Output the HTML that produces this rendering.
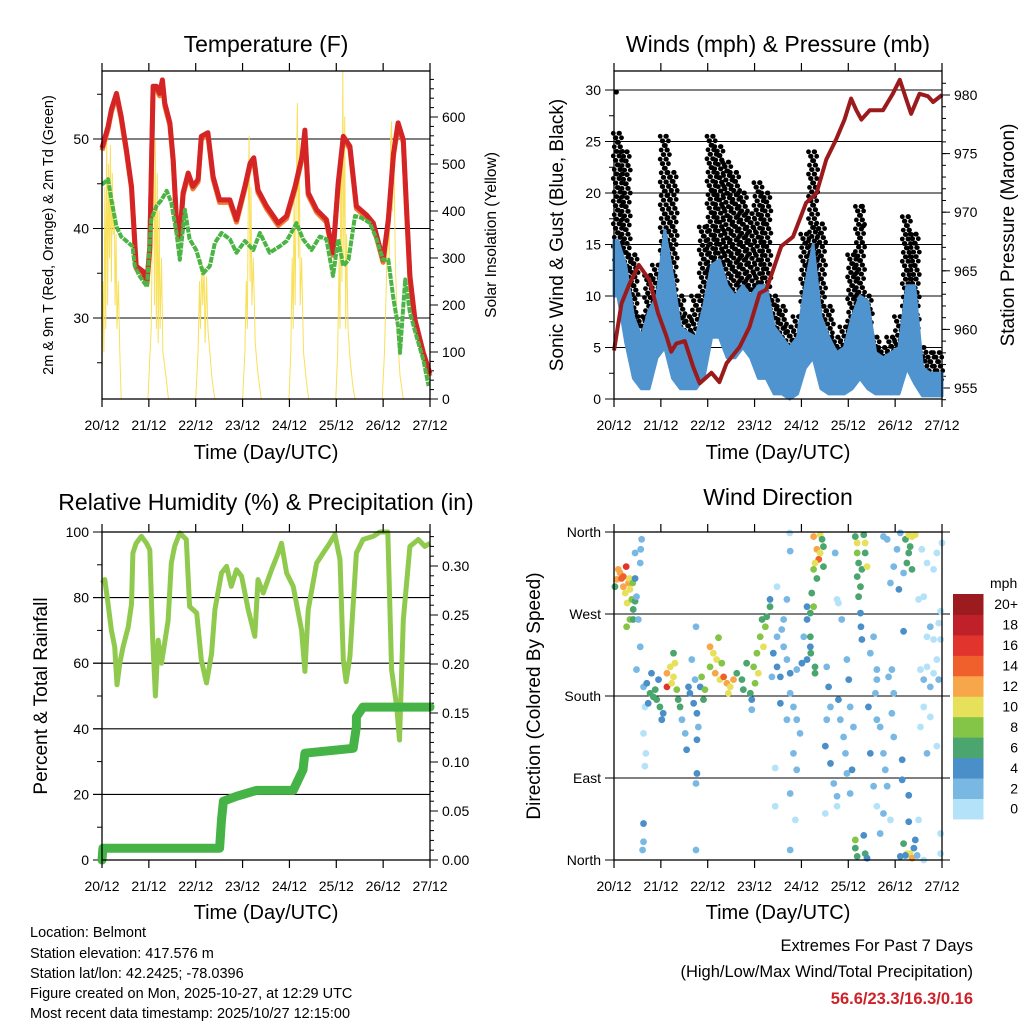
<!DOCTYPE html>
<html><head><meta charset="utf-8"><title>Belmont Meteogram</title>
<style>
html,body{margin:0;padding:0;background:#fff;}
svg{display:block;font-family:"Liberation Sans",Arial,sans-serif;}
</style></head>
<body>
<svg id="fig" width="1024" height="1024" viewBox="0 0 1024 1024" xmlns="http://www.w3.org/2000/svg">
<rect x="0" y="0" width="1024" height="1024" fill="#fff"/>
<g id="tl"></g>
<g id="tr"></g>
<g id="bl"></g>
<g id="br"></g>

<text x="266" y="52" font-size="23" text-anchor="middle">Temperature (F)</text>
<text x="778" y="52" font-size="23" text-anchor="middle">Winds (mph) &amp; Pressure (mb)</text>
<text x="266" y="510" font-size="23" text-anchor="middle">Relative Humidity (%) &amp; Precipitation (in)</text>
<text x="778" y="505" font-size="23" text-anchor="middle">Wind Direction</text>

<text x="266" y="459" font-size="20" text-anchor="middle">Time (Day/UTC)</text>
<text x="778" y="459" font-size="20" text-anchor="middle">Time (Day/UTC)</text>
<text x="266" y="919" font-size="20" text-anchor="middle">Time (Day/UTC)</text>
<text x="778" y="919" font-size="20" text-anchor="middle">Time (Day/UTC)</text>

<text transform="translate(53,235) rotate(-90)" font-size="14.5" text-anchor="middle">2m &amp; 9m T (Red, Orange) &amp; 2m Td (Green)</text>
<text transform="translate(496,235) rotate(-90)" font-size="15.5" text-anchor="middle">Solar Insolation (Yellow)</text>
<text transform="translate(563,235) rotate(-90)" font-size="19" text-anchor="middle">Sonic Wind &amp; Gust (Blue, Black)</text>
<text transform="translate(1014,235) rotate(-90)" font-size="19" text-anchor="middle">Station Pressure (Maroon)</text>
<text transform="translate(47,696) rotate(-90)" font-size="19" text-anchor="middle">Percent &amp; Total Rainfall</text>
<text transform="translate(540,696) rotate(-90)" font-size="19" text-anchor="middle">Direction (Colored By Speed)</text>

<g font-size="14.5">
<text x="30" y="937">Location: Belmont</text>
<text x="30" y="958">Station elevation: 417.576 m</text>
<text x="30" y="978">Station lat/lon: 42.2425; -78.0396</text>
<text x="30" y="998">Figure created on Mon, 2025-10-27, at 12:29 UTC</text>
<text x="30" y="1018">Most recent data timestamp: 2025/10/27 12:15:00</text>
</g>
<g text-anchor="end">
<text x="973" y="951" font-size="16.5">Extremes For Past 7 Days</text>
<text x="973" y="977" font-size="16.5">(High/Low/Max Wind/Total Precipitation)</text>
<text x="973" y="1004" font-size="16.5" font-weight="bold" fill="#cc2229">56.6/23.3/16.3/0.16</text>
</g>
</svg>
<script>
// ---------- DATA ----------
const dayLabels = ['20/12','21/12','22/12','23/12','24/12','25/12','26/12','27/12'];

const tempTimes = [0,.13,.2,.31,.41,.52,.63,.68,.73,.88,.96,1.02,1.09,1.16,1.23,1.29,1.34,1.45,1.52,1.6,1.66,1.73,1.84,1.94,2.05,2.12,2.26,2.37,2.51,2.73,2.87,3.05,3.16,3.24,3.33,3.51,3.76,3.94,4.12,4.27,4.33,4.4,4.58,4.79,4.93,5.04,5.15,5.29,5.43,5.65,5.79,6.0,6.11,6.22,6.32,6.43,6.5,6.57,6.68,6.86,7.0];
const tempValues = [49,51.4,53.3,55.1,52.5,48.8,44.7,40.2,35.8,35.2,34.1,38,55.9,55.9,55.1,56.6,54,51.8,47.7,39.9,39.1,44,46.2,44.7,45.5,50.3,50.7,45.8,43.2,43.2,41,44.7,47.3,47.9,44.3,42.5,40.6,41.4,44.7,48.1,51,44,42.1,41,37.3,45.1,50.3,49.2,42.5,41.5,40.6,36.5,41,48.4,51.8,49.9,42.1,34.7,29.8,26.1,23.8];

const dewTimes = [0,.13,.2,.31,.41,.52,.65,.7,.8,.96,1.05,1.16,1.27,1.38,1.48,1.59,1.66,1.77,1.87,2.01,2.16,2.3,2.41,2.55,2.73,2.87,3.05,3.23,3.37,3.58,3.79,3.94,4.15,4.29,4.47,4.65,4.79,4.93,5.04,5.15,5.26,5.4,5.54,5.72,5.86,6.0,6.11,6.22,6.32,6.36,6.47,6.57,6.71,6.86,6.97];
const dewValues = [44.9,45.5,43.2,40.2,39.1,38.6,38,35.8,34.7,33.5,41,42.5,43.2,44.2,42.9,39.5,36.5,42.1,38.8,37.6,35,35.8,38.4,39.5,38.8,37.3,38.6,37.6,39.5,37.3,38,38.6,40.6,38.8,37.6,39.1,38.8,34.7,38.8,35.8,36.5,41.4,41.2,40.6,38.8,36.5,36.5,32.1,29.1,26.1,34.3,30.6,28,25.3,22.4];

const solarTimes = [0,.02,.04,.06,.08,.1,.12,.14,.16,.18,.2,.22,.24,.26,.28,.3,.32,.35,.38,.41,
 .98,1.05,1.08,1.1,1.12,1.14,1.16,1.18,1.2,1.22,1.24,1.27,1.3,1.35,1.42,
 2.0,2.05,2.08,2.1,2.13,2.15,2.18,2.2,2.23,2.26,2.3,2.35,2.41,
 3.0,3.05,3.08,3.1,3.12,3.14,3.16,3.18,3.2,3.23,3.27,3.32,3.4,
 3.99,4.03,4.06,4.08,4.1,4.12,4.15,4.17,4.19,4.21,4.23,4.26,4.3,4.35,4.41,
 4.99,5.03,5.06,5.08,5.1,5.12,5.14,5.16,5.18,5.2,5.22,5.25,5.3,5.35,5.4,
 5.98,6.03,6.07,6.1,6.13,6.16,6.18,6.2,6.23,6.26,6.3,6.36,6.43,7.0];
const solarValues = [60,250,100,450,150,572,200,500,300,540,250,480,350,420,200,350,150,250,100,0,
 0,150,400,586,200,550,150,480,120,400,150,300,100,60,0,
 0,100,250,150,296,200,280,120,260,150,100,40,0,
 0,100,250,150,400,558,250,450,200,300,120,60,0,
 0,100,300,150,450,200,500,629,300,550,200,300,100,50,0,
 0,100,300,150,550,250,697,300,600,150,350,150,80,30,0,
 0,100,250,400,300,550,590,400,520,300,150,50,0,0];

// winds: 4-hour bins, 42 bins over 7 days
const windLow  = [10,5.5,2,1,1,4,5,2,1,1,1,2,6,6,4,4,5,4,2,2,0.5,0.5,0,0.5,3,4,1,0.5,0.5,0.5,1,2,1,0.5,0.5,0.5,0.5,3,1.5,0.3,0.3,0.3];
const windHigh = [15.4,13,8,6,8.6,10,16.4,12,7,6.4,6,9,13,13.5,11,10,11,10,11,11,7,6,5,6,11,15,8,6,4.5,5,8,10,9.5,4.5,4,4.5,5,11,11,3,2.5,2.5];
const gustLow  = [13.5,12,5,3,3,6,10,8,4,4,5,6,12,12,10,8,10,8,6,7,4,3,3,3,6,8,5,3,2,3,5,6,4,2,2,2,3,6,6,1,1,1];
const gustHigh = [25.8,24,14,8,12,13,25.5,22,10,8,10,16.7,25.5,24.5,23,22,20,18,21,20,10,9,7,8,16,24,17,9,6,7,14,18.7,10,6,5,6,8,17.7,16,5,4.5,4.5];
const gustOutlierTimes = [0.05,5.3,5.32];
const gustOutlierValues = [29.8,18.7,16.8];

const presTimes = [0,.16,.33,.53,.76,.94,1.12,1.22,1.33,1.51,1.69,1.83,2.08,2.25,2.4,2.68,2.89,3.11,3.25,3.57,3.82,4.1,4.32,4.53,4.74,4.92,5.06,5.17,5.28,5.46,5.74,5.95,6.1,6.24,6.34,6.52,6.7,6.81,7.0];
const presValues = [958.2,962.2,963.9,965.5,964.2,961.4,959.4,958.1,958.8,959,956.8,955.4,956.3,955.5,957.1,958.5,960.2,963.1,963.4,967.1,967.9,970.8,971.6,974.5,976.2,977.9,979.7,978.7,977.9,978.7,978.7,980.1,981.3,979.6,978.4,980.1,979.9,979.4,980];

const rhTimes = [0,.06,.13,.2,.27,.32,.38,.45,.56,.63,.66,.73,.84,.95,1.02,1.08,1.14,1.2,1.27,1.41,1.48,1.55,1.66,1.8,1.87,2.02,2.12,2.23,2.34,2.41,2.55,2.66,2.76,2.87,2.98,3.12,3.26,3.33,3.44,3.62,3.76,3.83,3.94,4.08,4.19,4.26,4.33,4.4,4.58,4.72,4.86,4.97,5.08,5.15,5.21,5.29,5.43,5.57,5.79,5.93,6.1,6.18,6.29,6.35,6.43,6.57,6.75,6.89,7];
const rhValues = [84.4,85.5,78,70,65,53.4,60,65,71,78,93.6,96.6,98.7,96.6,94.6,68,50,67,60,73,90.5,95.6,99.7,97.7,77.3,75.3,61,54,63,76.3,87.5,89.5,83.4,88.5,86.5,76.3,68.2,85.5,81.4,88.5,93.6,96.6,87.5,83.4,75.3,70,57.5,76.3,90.5,93.6,96.6,99.2,91.6,61,54.4,62,93.6,97.7,98.7,100,100,58,46.8,36.6,73.2,95.6,97.7,95.6,96.6];

const precipTimes = [0,.02,2.51,2.55,2.59,2.87,3.3,4.08,4.22,4.29,4.33,5.36,5.43,5.43,5.57,7];
const precipValues = [0,.012,.012,.041,.06,.065,.071,.071,.085,.092,.109,.114,.136,.146,.156,.156];

const dirTimes = [.06,.13,.16,.2,.26,.24,.31,.34,.28,.38,.41,.27,.34,.02,.41,.45,.09,.2,.33,.4,
 .45,.48,.56,.59,.57,.52,.56,.48,.63,.66,.63,.68,.66,.63,.63,.61,.45,
 .7,.77,.84,.91,.8,.98,1.02,.73,.88,.95,1.05,
 1.13,1.2,1.27,1.13,1.3,1.23,1.34,1.27,1.37,1.41,
 1.45,1.52,1.55,1.59,1.62,1.7,1.77,1.8,1.77,1.84,1.73,1.66,1.77,1.75,1.75,1.75,1.91,1.94,1.87,
 2.05,2.12,2.16,2.19,2.23,2.26,2.34,2.41,2.48,2.55,2.44,2.05,2.3,2.62,2.73,2.76,2.83,2.91,
 2.98,3.05,3.12,3.19,3.23,3.26,3.16,3.33,3.33,3.08,3.01,2.94,2.94,
 3.4,3.48,3.55,3.58,3.62,3.69,3.76,3.83,3.9,3.97,3.76,3.62,3.48,3.37,3.55,3.9,4.01,3.69,3.83,3.9,3.76,3.87,3.76,3.44,3.44,3.48,3.76,3.75,3.69,4.05,4.12,4.19,4.12,4.12,
 4.26,4.4,4.33,4.37,4.29,4.4,4.47,4.47,4.33,4.22,4.26,4.19,4.19,4.2,4.29,4.29,4.26,4.44,
 4.54,4.58,4.62,4.54,4.51,4.62,4.69,4.76,4.79,4.83,4.9,4.94,4.97,5.04,5.01,4.97,4.76,4.72,4.79,4.51,4.76,4.86,5.04,5.11,5.08,
 5.15,5.19,5.19,5.22,5.19,5.26,5.22,5.29,5.36,5.4,5.33,5.36,5.26,5.27,5.29,5.15,5.15,5.19,5.36,5.33,5.4,
 5.47,5.54,5.61,5.43,5.58,5.61,5.68,5.75,5.79,5.83,5.47,5.54,5.61,5.75,5.68,5.9,5.86,5.93,5.97,5.93,5.97,6.15,6.15,6.29,6.18,6.11,6.04,5.97,5.9,5.83,6.08,6.18,5.75,5.61,
 6.22,6.29,6.36,6.32,6.29,6.36,6.25,6.43,
 6.18,6.25,6.32,6.22,6.11,6.4,6.43,6.29,6.36,6.47,
 6.54,6.61,6.68,6.75,6.82,6.89,6.93,6.97,6.61,6.54,6.68,6.75,6.89,6.5,6.61,6.97,6.97,6.68,6.82,6.89,7.0,6.57,6.5,6.61,6.75,6.93,6.97,6.82,6.68];
const dirDegrees = [308,315,309,300,322,293,304,297,282,286,275,256,264,300,264,284,319,311,309,304,
 309,289,326,352,341,264,234,209,190,168,139,117,103,40,20,11,337,
 194,183,179,176,205,168,154,172,187,198,161,
 205,212,201,190,216,194,187,227,176,168,
 154,139,121,190,183,172,161,146,132,190,198,220,95,84,256,11,176,187,201,
 234,227,205,220,244,198,201,194,190,198,183,212,216,205,198,187,216,183,
 212,227,245,234,256,267,264,278,286,205,194,176,165,
 227,212,201,253,234,220,183,168,154,139,205,264,245,201,172,209,216,154,117,99,73,44,11,59,101,300,339,359,286,245,220,234,264,278,
 355,357,341,330,326,337,344,322,309,293,278,271,245,227,212,205,319,352,
 212,190,168,154,125,106,84,70,176,154,135,117,95,73,198,220,286,337,282,51,59,264,168,146,99,
 355,348,337,326,311,300,289,319,348,322,357,337,271,256,242,22,13,4,7,27,2,
 227,245,209,168,183,154,146,117,99,81,117,81,59,51,29,44,201,209,183,161,135,110,88,71,251,359,341,322,304,352,297,315,355,198,
 352,357,355,344,337,319,326,357,
 18,7,7,5,4,13,22,42,2,5,
 209,198,212,190,205,220,198,242,168,146,117,157,125,44,0,7,29,326,319,337,348,341,286,289,256,260,273,242,245];
const dirSpeeds = [12,13,15,12,16,11,12,10,10,8,7,8,9,6,6,6,12,14,11,9,
 4,3,2,2,2,3,2,2,3,1,1,1,1,4,3,2,2,
 4,6,6,6,4,6,4,4,6,4,4,
 12,11,10,17,10,11,8,7,6,7,
 3,2,4,4,5,4,4,3,4,4,3,3,4,2,3,3,7,8,8,
 12,10,13,10,8,11,14,12,10,13,10,9,8,7,7,6,7,6,
 8,8,9,10,8,7,7,6,4,10,9,4,3,
 4,5,4,3,3,3,3,2,2,2,4,2,3,3,4,3,4,2,2,2,2,1,2,1,1,1,2,1,3,3,4,5,4,4,
 12,10,12,14,11,10,6,6,6,7,8,6,6,6,6,7,8,6,
 3,4,3,2,4,4,2,2,4,3,2,3,2,2,4,3,1,3,1,1,1,2,2,3,4,
 6,10,8,7,6,6,7,6,10,10,7,6,4,4,4,8,7,6,6,4,4,
 2,3,2,4,2,2,3,2,2,2,4,2,1,2,2,1,3,2,3,2,3,4,4,4,4,3,3,3,2,2,4,3,2,2,
 6,10,10,7,6,6,7,10,
 6,10,10,4,4,4,4,4,12,3,
 1,2,1,2,1,1,2,1,1,1,2,1,1,1,1,1,1,1,1,1,1,1,1,1,2,1,1,1,1];

const speedLabels = ['0','2','4','6','8','10','12','14','16','18','20+'];
const speedColors = ['#b4e2f8','#7ab8e4','#4a8fc8','#4aa56e','#84c446','#e7e05a','#f7a64a','#f0602c','#e0342c','#c0202a','#9b1b1e'];

// ---------- HELPERS ----------
const NS = 'http://www.w3.org/2000/svg';
function mk(tag, attrs, parent){
  const e = document.createElementNS(NS, tag);
  for (const k in attrs) e.setAttribute(k, attrs[k]);
  parent.appendChild(e);
  return e;
}
const FONT = '"Liberation Sans", Arial, sans-serif';

function xAxis(g, x0, x1, yTop, yBot, nm){
  const sx = d => x0 + d*(x1-x0)/7;
  for (let d=0; d<=7; d++){
    const t1 = mk('line',{x1:sx(d),y1:yBot,x2:sx(d),y2:yBot+8,stroke:'#000','stroke-width':1.2},g);
    
    
    const t2 = mk('line',{x1:sx(d),y1:yTop,x2:sx(d),y2:yTop-8,stroke:'#000','stroke-width':1.2},g);
    
    
    const lb = mk('text',{x:sx(d),y:yBot+31,'font-size':14,'text-anchor':'middle','font-family':FONT},g);
    lb.textContent = dayLabels[d];
    
    
  }
}
function yTicks(g, vals, sy, xEdge, dir, len, nm, labelFn, grid, gx0, gx1){
  vals.forEach(v=>{
    const y = sy(v);
    if (grid){
      const gl = mk('line',{x1:gx0,y1:y,x2:gx1,y2:y,stroke:'#000','stroke-width':1.1},g);
      
      
    }
    const t = mk('line',{x1:xEdge,y1:y,x2:xEdge+dir*len,y2:y,stroke:'#000','stroke-width':1},g);
    
    
    if (labelFn){
      const lb = mk('text',{x:xEdge+dir*(len+4),y:y+5,'font-size':14,'text-anchor':dir<0?'end':'start','font-family':FONT},g);
      lb.textContent = labelFn(v);
      
      
    }
  });
}
function frame(g, x0, y0, x1, y1, nm){
  const r = mk('rect',{x:x0,y:y0,width:x1-x0,height:y1-y0,fill:'none',stroke:'#000','stroke-width':1.3},g);
  
  
}
function pts(ts, vs, sx, sy){ return ts.map((t,i)=>sx(t).toFixed(1)+','+sy(vs[i]).toFixed(1)).join(' '); }
function range(a,b,s){ const r=[]; for(let v=a; v<=b+1e-9; v+=s) r.push(+v.toFixed(4)); return r; }

// ---------- TEMPERATURE PANEL ----------
(function(){
  const g = document.getElementById('tl');
  const X0=102, X1=430, Y0=71, Y1=399;
  const sx = t => X0 + t*(X1-X0)/7;
  const sy = v => 318 - (v-30)*8.95;
  const ss = v => Y1 - v*0.47;
  yTicks(g, [30,40,50], sy, X0, -1, 9, 'temp-y', v=>String(v), true, 93, X1);
  yTicks(g, [25,35,45,55], sy, X0, -1, 5, 'temp-y-minor', null, false);
  yTicks(g, range(0,600,100), ss, X1, 1, 8, 'solar-y', v=>String(v), false);
  yTicks(g, range(0,680,20), ss, X1, 1, 4, 'solar-y-minor', null, false);
  const solar = mk('polyline',{points:pts(solarTimes,solarValues,sx,ss),fill:'none',stroke:'#f8e05a','stroke-width':1,'stroke-linejoin':'round'},g);
  
  
  const orange = mk('polyline',{points:pts(tempTimes,tempValues,sx,sy),fill:'none',stroke:'#f07a2e','stroke-width':5,'stroke-linejoin':'round',transform:'translate(0,2.5)'},g);
  
  
  const red = mk('polyline',{points:pts(tempTimes,tempValues,sx,sy),fill:'none',stroke:'#d42426','stroke-width':5,'stroke-linejoin':'round'},g);
  
  
  const dew = mk('polyline',{points:pts(dewTimes,dewValues,sx,sy),fill:'none',stroke:'#4bb445','stroke-width':4,'stroke-dasharray':'6 1','stroke-linejoin':'round'},g);
  
  
  frame(g,X0,Y0,X1,Y1,'temp');
  xAxis(g,X0,X1,Y0,Y1,'temp');
})();

// ---------- WINDS PANEL ----------
(function(){
  const g = document.getElementById('tr');
  const X0=614, X1=942, Y0=71, Y1=399;
  const sx = t => X0 + t*(X1-X0)/7;
  const sy = s => Y1 - s*10.3;
  const sp = p => 388 - (p-955)*11.72;
  yTicks(g, range(0,30,5), sy, X0, -1, 9, 'wind-y', v=>String(v), true, 605, X1);
  yTicks(g, range(2.5,30,5), sy, X0, -1, 5, 'wind-y-minor', null, false);
  yTicks(g, range(955,980,5), sp, X1, 1, 8, 'pressure-y', v=>String(v), false);
  yTicks(g, range(954,981,1), sp, X1, 1, 4, 'pressure-y-minor', null, false);
  const binW = 1/6;
  // gust dots (staggered fill between low and high of each bin)
  gustLow.forEach((lo,k)=>{
    const hi = gustHigh[k];
    const yTop = sy(hi), yBot = sy(lo);
    const rows = Math.max(1, Math.round((yBot-yTop)/4.5));
    for (let c=0;c<3;c++){
      for (let r=0;r<=rows;r++){
        const t = k*binW + (c+0.5)/3*binW;
        const off = ((r*7 + c*3) % 5) - 2;
        const y = yTop + (yBot-yTop)*r/rows;
        const dot = mk('circle',{cx:(sx(t)+off).toFixed(1),cy:y.toFixed(1),r:2.4,fill:'#000'},g);
        
        
      }
    }
  });
  gustOutlierTimes.forEach((t,i)=>{
    const dot = mk('circle',{cx:sx(t),cy:sy(gustOutlierValues[i]),r:2.6,fill:'#000'},g);
    
    
  });
  // wind band
  const up = windHigh.map((v,k)=>sx(k*binW+binW/2).toFixed(1)+','+sy(v).toFixed(1));
  const dn = windLow.map((v,k)=>sx(k*binW+binW/2).toFixed(1)+','+sy(v).toFixed(1)).reverse();
  up.unshift(sx(0)+','+sy(windHigh[0]).toFixed(1));
  up.push(sx(7)+','+sy(windHigh[41]).toFixed(1));
  dn.unshift(sx(7)+','+sy(windLow[41]).toFixed(1));
  dn.push(sx(0)+','+sy(windLow[0]).toFixed(1));
  const band = mk('polygon',{points:up.concat(dn).join(' '),fill:'#4f93cf',stroke:'#4f93cf','stroke-width':3,'stroke-linejoin':'round'},g);
  
  
  const pres = mk('polyline',{points:pts(presTimes,presValues,sx,sp),fill:'none',stroke:'#9b1a1c','stroke-width':4,'stroke-linejoin':'round'},g);
  
  
  frame(g,X0,Y0,X1,Y1,'wind');
  xAxis(g,X0,X1,Y0,Y1,'wind');
})();

// ---------- HUMIDITY PANEL ----------
(function(){
  const g = document.getElementById('bl');
  const X0=102, X1=430, Y0=532, Y1=860;
  const sx = t => X0 + t*(X1-X0)/7;
  const sy = v => Y1 - v*3.28;
  const sp = p => Y1 - p*980;
  yTicks(g, range(0,100,20), sy, X0, -1, 9, 'rh-y', v=>String(v), true, 93, X1);
  yTicks(g, range(10,90,20), sy, X0, -1, 5, 'rh-y-minor', null, false);
  yTicks(g, range(0,0.3,0.05), sp, X1, 1, 8, 'precip-y', v=>v.toFixed(2), false);
  yTicks(g, range(0,0.33,0.01), sp, X1, 1, 4, 'precip-y-minor', null, false);
  const rh = mk('polyline',{points:pts(rhTimes,rhValues,sx,sy),fill:'none',stroke:'#8fca4e','stroke-width':5,'stroke-linejoin':'round'},g);
  
  
  const pr = mk('polyline',{points:pts(precipTimes,precipValues,sx,sp),fill:'none',stroke:'#46b347','stroke-width':9,'stroke-linejoin':'round','stroke-linecap':'round'},g);
  
  
  frame(g,X0,Y0,X1,Y1,'rh');
  xAxis(g,X0,X1,Y0,Y1,'rh');
})();

// ---------- WIND DIRECTION PANEL ----------
(function(){
  const g = document.getElementById('br');
  const X0=614, X1=942, Y0=532, Y1=860;
  const sx = t => X0 + t*(X1-X0)/7;
  const sy = d => Y1 - d*328/360;
  const names = ['North','East','South','West','North'];
  yTicks(g, [0,90,180,270,360], sy, X0, -1, 9, 'direction-y', v=>names[v/90], true, 605, 950);
  dirTimes.forEach((t,i)=>{
    const ci = Math.min(10, Math.floor(dirSpeeds[i]/2));
    const dot = mk('circle',{cx:sx(t),cy:sy(dirDegrees[i]),r:3.4,fill:speedColors[ci]},g);
    
    
  });
  frame(g,X0,Y0,X1,Y1,'direction');
  xAxis(g,X0,X1,Y0,Y1,'direction');
  // legend
  const lt = mk('text',{x:990,y:588,'font-size':14,'font-family':FONT},g);
  lt.textContent = 'mph';
  
  
  const bh = 20.45;
  speedLabels.forEach((lab,i)=>{
    const y = 594 + (10-i)*bh;
    const r = mk('rect',{x:953,y:y,width:30.5,height:bh+0.5,fill:speedColors[i]},g);
    
    
    const tx = mk('text',{x:1018,y:y+bh/2+5,'font-size':14,'text-anchor':'end','font-family':FONT},g);
    tx.textContent = lab;
    
    
  });
})();
</script>
</body></html>
